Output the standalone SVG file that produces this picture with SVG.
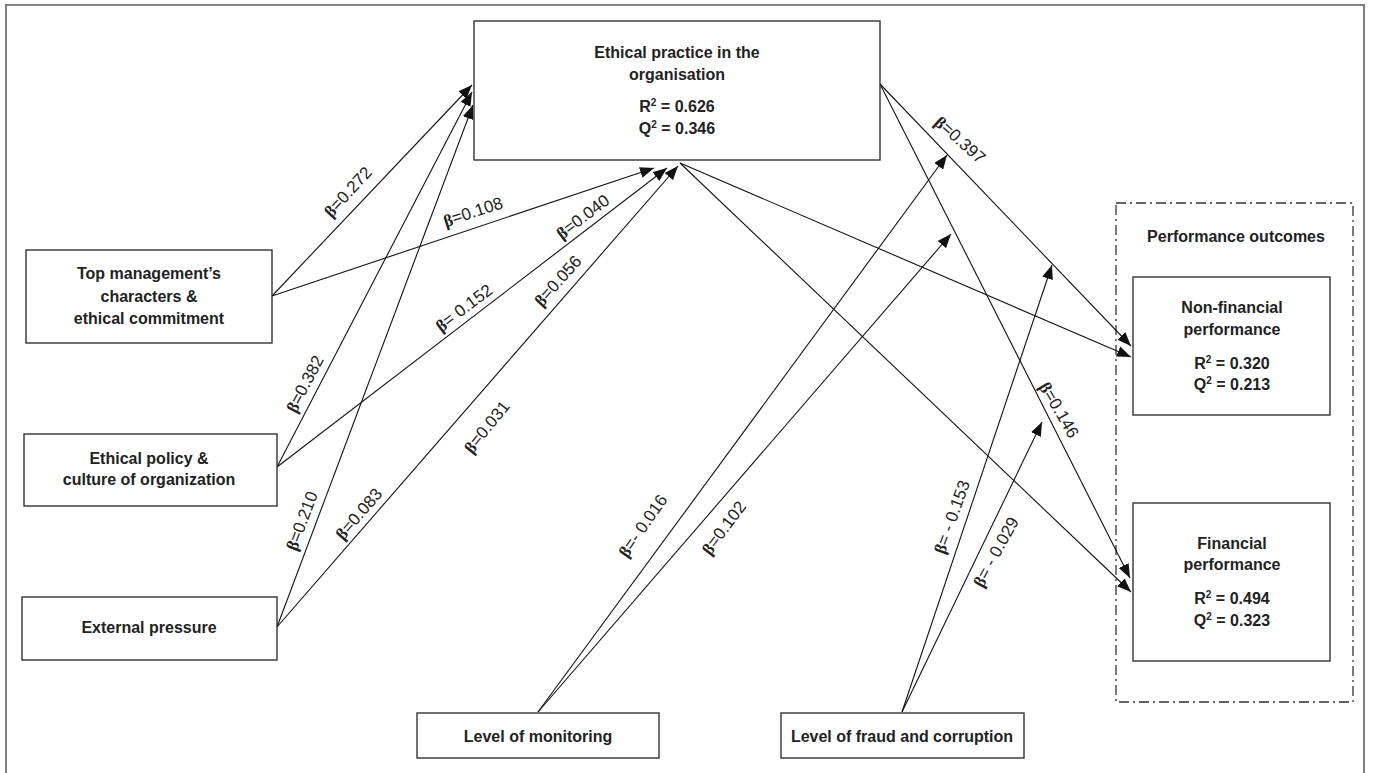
<svg xmlns="http://www.w3.org/2000/svg" width="1373" height="773" viewBox="0 0 1373 773">
<defs>
<marker id="ah" markerUnits="userSpaceOnUse" markerWidth="15" markerHeight="11" refX="14" refY="5.5" orient="auto">
<path d="M0,0 L14,5.5 L0,11 z" fill="#111"/>
</marker>
<style>
.box{fill:#fff;stroke:#333;stroke-width:1.4}
.nt{font-family:"Liberation Sans",Arial,sans-serif;font-weight:bold;font-size:16px;fill:#222;text-anchor:middle}
.sup{font-size:10px}
.ln{fill:none;stroke:#111;stroke-width:1.1;marker-end:url(#ah)}
.lb{font-family:"Liberation Sans",Arial,sans-serif;font-size:17px;fill:#222;text-anchor:middle;dominant-baseline:central}
.lb tspan.b{font-family:"Liberation Serif","Times New Roman",serif;font-weight:bold}
</style>
</defs>
<rect x="6" y="5" width="1358" height="820" fill="#fff" stroke="#808080" stroke-width="2"/>

<g id="performance-outcomes">
<rect x="1116" y="203" width="237" height="499" fill="none" stroke="#333" stroke-width="1.3" stroke-dasharray="10,4,2,4"/>
<text class="nt" x="1236" y="241.5">Performance outcomes</text>
</g>

<g id="connectors">
<line class="ln" x1="272" y1="296" x2="472" y2="85"/>
<line class="ln" x1="277" y1="467" x2="472" y2="92"/>
<line class="ln" x1="277" y1="627" x2="473" y2="105"/>
<line class="ln" x1="272" y1="296" x2="654" y2="168"/>
<line class="ln" x1="277" y1="467" x2="667" y2="168"/>
<line class="ln" x1="277" y1="627" x2="678" y2="166"/>
<line class="ln" x1="880" y1="84" x2="1131" y2="346"/>
<line class="ln" x1="880" y1="84" x2="1130" y2="578"/>
<line class="ln" x1="680" y1="163" x2="1131" y2="357"/>
<line class="ln" x1="680" y1="163" x2="1131" y2="592"/>
<line class="ln" x1="538" y1="712" x2="947" y2="155"/>
<line class="ln" x1="538" y1="712" x2="951" y2="234"/>
<line class="ln" x1="902" y1="712" x2="1052" y2="265"/>
<line class="ln" x1="902" y1="712" x2="1042" y2="422"/>
</g>

<g id="labels">
<text class="lb" transform="translate(348,192) rotate(-47)"><tspan class="b">β</tspan>=0.272</text>
<text class="lb" transform="translate(473,212) rotate(-18)"><tspan class="b">β</tspan>=0.108</text>
<text class="lb" transform="translate(583,217) rotate(-37)"><tspan class="b">β</tspan>=0.040</text>
<text class="lb" transform="translate(464,308) rotate(-37)"><tspan class="b">β</tspan>= 0.152</text>
<text class="lb" transform="translate(558,281) rotate(-48)"><tspan class="b">β</tspan>=0.056</text>
<text class="lb" transform="translate(305,384) rotate(-62)"><tspan class="b">β</tspan>=0.382</text>
<text class="lb" transform="translate(302,521) rotate(-69)"><tspan class="b">β</tspan>=0.210</text>
<text class="lb" transform="translate(359,514) rotate(-49)"><tspan class="b">β</tspan>=0.083</text>
<text class="lb" transform="translate(487,427) rotate(-51)"><tspan class="b">β</tspan>=0.031</text>
<text class="lb" transform="translate(960,140) rotate(42)"><tspan class="b">β</tspan>=0.397</text>
<text class="lb" transform="translate(1059,410) rotate(60)"><tspan class="b">β</tspan>=0.146</text>
<text class="lb" transform="translate(643,526) rotate(-55)"><tspan class="b">β</tspan>=- 0.016</text>
<text class="lb" transform="translate(724,528) rotate(-53)"><tspan class="b">β</tspan>=0.102</text>
<text class="lb" transform="translate(952,517) rotate(-70)"><tspan class="b">β</tspan>= - 0.153</text>
<text class="lb" transform="translate(996,552) rotate(-61)"><tspan class="b">β</tspan>= - 0.029</text>
</g>

<g id="ethical-practice">
<rect class="box" x="474" y="21" width="406" height="139"/>
<text class="nt" x="677" y="57.5">Ethical practice in the</text>
<text class="nt" x="677" y="79.5">organisation</text>
<text class="nt" x="677" y="111.5">R<tspan class="sup" dy="-6">2</tspan><tspan dy="6"> = 0.626</tspan></text>
<text class="nt" x="677" y="133.5">Q<tspan class="sup" dy="-6">2</tspan><tspan dy="6"> = 0.346</tspan></text>
</g>

<g id="top-management">
<rect class="box" x="26" y="250" width="246" height="93"/>
<text class="nt" x="149" y="278.5">Top management’s</text>
<text class="nt" x="149" y="301.5">characters &amp;</text>
<text class="nt" x="149" y="323.5">ethical commitment</text>
</g>

<g id="ethical-policy">
<rect class="box" x="24" y="434" width="253" height="72"/>
<text class="nt" x="149" y="463.5">Ethical policy &amp;</text>
<text class="nt" x="149" y="484.5">culture of organization</text>
</g>

<g id="external-pressure">
<rect class="box" x="22" y="597" width="255" height="63"/>
<text class="nt" x="149" y="632.5">External pressure</text>
</g>

<g id="level-monitoring">
<rect class="box" x="417" y="713" width="242" height="45"/>
<text class="nt" x="538" y="741.5">Level of monitoring</text>
</g>

<g id="level-fraud">
<rect class="box" x="781" y="713" width="243" height="45"/>
<text class="nt" x="902" y="741.5">Level of fraud and corruption</text>
</g>

<g id="non-financial">
<rect class="box" x="1133" y="277" width="197" height="138"/>
<text class="nt" x="1232" y="312.5">Non-financial</text>
<text class="nt" x="1232" y="334.5">performance</text>
<text class="nt" x="1232" y="368.5">R<tspan class="sup" dy="-6">2</tspan><tspan dy="6"> = 0.320</tspan></text>
<text class="nt" x="1232" y="389.5">Q<tspan class="sup" dy="-6">2</tspan><tspan dy="6"> = 0.213</tspan></text>
</g>

<g id="financial">
<rect class="box" x="1133" y="503" width="197" height="158"/>
<text class="nt" x="1232" y="548.5">Financial</text>
<text class="nt" x="1232" y="569.5">performance</text>
<text class="nt" x="1232" y="603.5">R<tspan class="sup" dy="-6">2</tspan><tspan dy="6"> = 0.494</tspan></text>
<text class="nt" x="1232" y="625.5">Q<tspan class="sup" dy="-6">2</tspan><tspan dy="6"> = 0.323</tspan></text>
</g>
</svg>
